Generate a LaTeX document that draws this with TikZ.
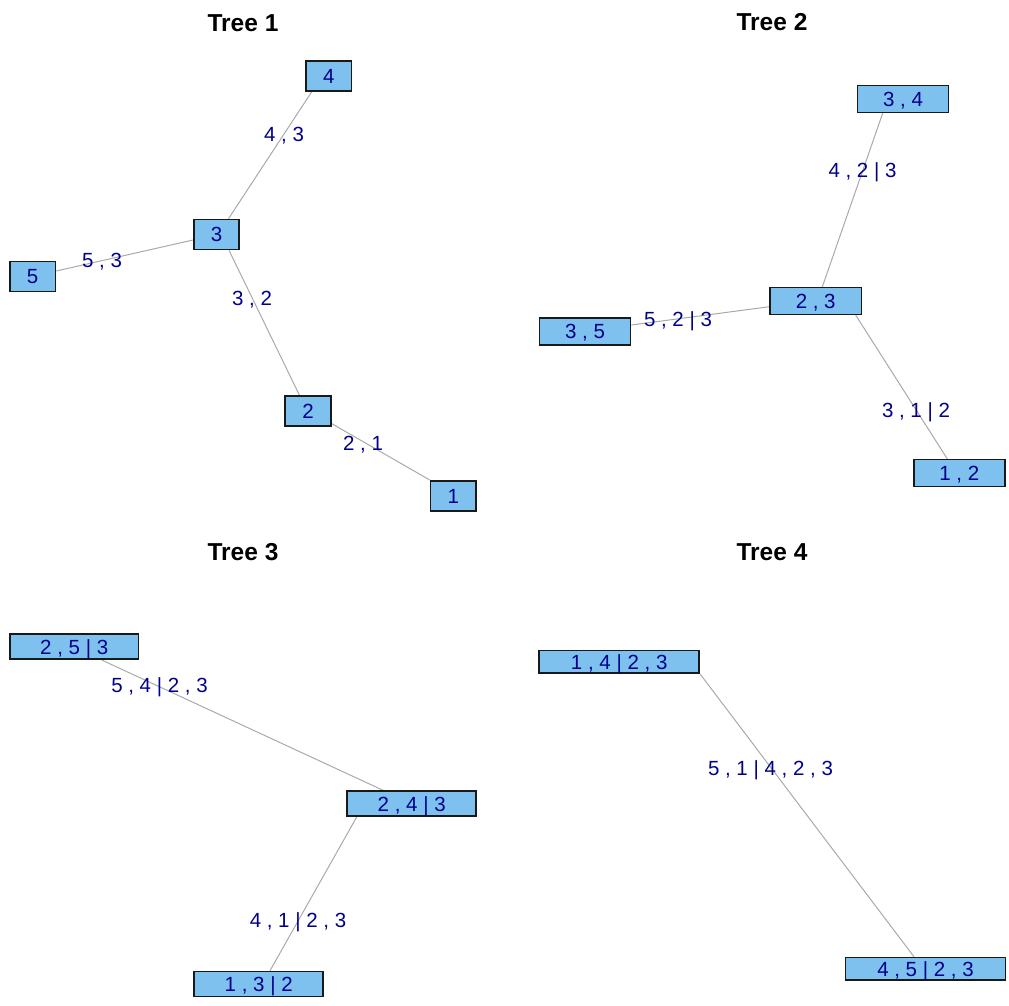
\documentclass[tikz,border=0pt]{standalone}
\usepackage{fontspec}
\setmainfont{Liberation Sans}
\usetikzlibrary{calc,backgrounds}
\definecolor{boxfill}{HTML}{7EC0EE}
\definecolor{labblue}{HTML}{00008B}
\definecolor{edgegray}{HTML}{A9A9A9}
\tikzset{
  x=1pt, y=-1pt,
  labfont/.style={font=\fontsize{20.5}{24}\selectfont, text=labblue,
                  text height=14.7pt, text depth=0pt},
  vbox/.style={labfont, draw=black!90, line width=1.6pt, fill=boxfill,
               inner sep=0pt, minimum width=#1},
  vbox/.default=45.5pt,
  elab/.style={labfont, inner sep=0pt},
  treeedge/.style={draw=edgegray, line width=1pt},
  ttl/.style={font=\fontsize{24.5}{29}\selectfont\bfseries,
              inner sep=0pt, text height=17.5pt, text depth=0pt}
}
\begin{document}
\begin{tikzpicture}
\path[use as bounding box] (0,0) rectangle (1009,1005);

% ---------- titles ----------
\node[ttl] (title1) at (243,22.5) {Tree 1};
\node[ttl] (title2) at (772,22)   {Tree 2};
\node[ttl] (title3) at (243,552)  {Tree 3};
\node[ttl] (title4) at (772,552)  {Tree 4};

% ---------- Tree 1 ----------
\begin{scope}[every node/.append style={minimum height=30pt}]
\node[vbox] (t1n4) at (328.7,76)    {4};
\node[vbox] (t1n3) at (216.5,234.5) {3};
\node[vbox] (t1n5) at (32.7,276.5)  {5};
\node[vbox] (t1n2) at (308,410.7)   {2};
\node[vbox] (t1n1) at (453.3,495.8) {1};
\end{scope}
\begin{scope}[on background layer]
\draw[treeedge] ($(t1n4.south)+(-17,0)$) -- ($(t1n3.north)+(12,0)$);
\draw[treeedge] ($(t1n5.east)+(0,-5.5)$) -- ($(t1n3.west)+(0,5.5)$);
\draw[treeedge] ($(t1n3.south)+(12.5,0)$) -- ($(t1n2.north)+(-8.7,0)$);
\draw[treeedge] ($(t1n2.east)+(0,12.8)$) -- (t1n1.north west);
\end{scope}
\node[elab] (l43) at (284,134)   {4 , 3};
\node[elab] (l53) at (102,260.5) {5 , 3};
\node[elab] (l32) at (252,298)   {3 , 2};
\node[elab] (l21) at (363,443.5) {2 , 1};

% ---------- Tree 2 ----------
\begin{scope}[every node/.append style={minimum height=26.7pt}]
\node[vbox=91.2pt] (t2a34) at (903,99)     {3 , 4};
\node[vbox=91.2pt] (t2a23) at (815.7,301)  {2 , 3};
\node[vbox=91.2pt] (t2a35) at (585,331.5)  {3 , 5};
\node[vbox=91.2pt] (t2a12) at (959.3,473)  {1 , 2};
\end{scope}
\begin{scope}[on background layer]
\draw[treeedge] ($(t2a34.south)+(-20.3,0)$) -- ($(t2a23.north)+(6.6,0)$);
\draw[treeedge] ($(t2a35.east)+(0,-6.5)$) -- ($(t2a23.west)+(0,5.7)$);
\draw[treeedge] ($(t2a23.south)+(40,0)$) -- ($(t2a12.north)+(-12,0)$);
\end{scope}
\node[elab] (l423) at (862.5,170.5) {4 , 2 | 3};
\node[elab] (l523) at (678,319)     {5 , 2 | 3};
\node[elab] (l312) at (916,410)     {3 , 1 | 2};

% ---------- Tree 3 ----------
\begin{scope}[every node/.append style={minimum height=25pt}]
\node[vbox=128.9pt] (t3b253) at (74.2,646.7)  {2 , 5 | 3};
\node[vbox=128.9pt] (t3b243) at (411.7,803.7) {2 , 4 | 3};
\node[vbox=128.9pt] (t3b132) at (258.7,984)   {1 , 3 | 2};
\end{scope}
\begin{scope}[on background layer]
\draw[treeedge] ($(t3b253.south)+(27.5,0)$) -- ($(t3b243.north)+(-28.4,0)$);
\draw[treeedge] ($(t3b243.south)+(-55,0)$) -- ($(t3b132.north)+(11.3,0)$);
\end{scope}
\node[elab] (l5423) at (159.5,685.5) {5 , 4 | 2 , 3};
\node[elab] (l4123) at (298,920)     {4 , 1 | 2 , 3};

% ---------- Tree 4 ----------
\begin{scope}[every node/.append style={minimum height=22.5pt}]
\node[vbox=160pt] (t4c1423) at (619.2,661.8) {1 , 4 | 2 , 3};
\node[vbox=160pt] (t4c4523) at (925.5,968.8) {4 , 5 | 2 , 3};
\end{scope}
\begin{scope}[on background layer]
\draw[treeedge] (t4c1423.south east) -- ($(t4c4523.north)+(-11.5,0)$);
\end{scope}
\node[elab] (l51423) at (770.5,768) {5 , 1 | 4 , 2 , 3};
\end{tikzpicture}
\end{document}
